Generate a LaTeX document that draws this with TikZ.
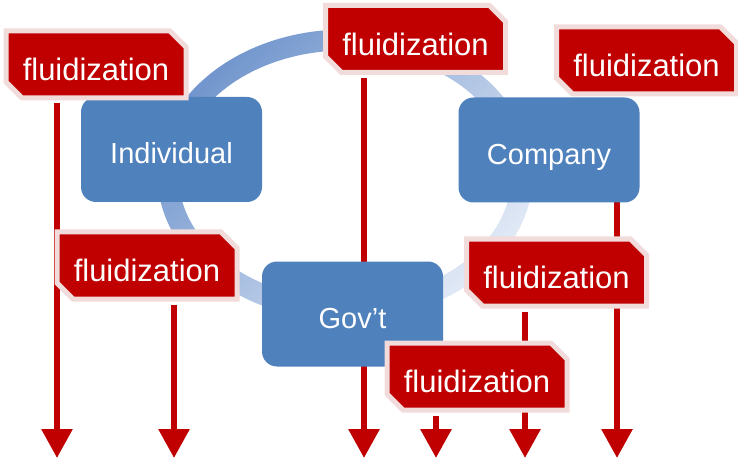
\documentclass[tikz,border=0pt]{standalone}
\usepackage{fontspec}
\setmainfont{Liberation Sans}
\usetikzlibrary{shapes.misc,arrows.meta}

\definecolor{boxblue}{HTML}{4F81BD}
\definecolor{flured}{HTML}{C00000}
\definecolor{flurim}{HTML}{F2DCDB}
\definecolor{ringdark}{HTML}{7296CD}
\definecolor{ringlight}{HTML}{E2EAF6}

\pgfdeclarelayer{ringlayer}
\pgfdeclarelayer{arrowlayer}
\pgfsetlayers{ringlayer,arrowlayer,main}

\begin{document}
\begin{tikzpicture}[x=1pt,y=-1pt,
  actor/.style={rectangle, rounded corners=15pt, fill=boxblue, text=white,
    minimum width=181pt, minimum height=105pt, inner sep=0pt,
    font=\fontsize{29}{34}\selectfont, text height=29pt, text depth=0pt},
  flu/.style={chamfered rectangle,
    chamfered rectangle corners={north east,south west},
    chamfered rectangle xsep=8pt, chamfered rectangle ysep=8pt,
    fill=flured, draw=flurim, line width=5pt, text=white,
    minimum width=180pt, minimum height=67pt, inner sep=0pt,
    font=\fontsize{31}{36}\selectfont, text height=32.6pt, text depth=0pt},
  flow/.style={draw=flured, line width=6pt,
    -{Triangle[width=30pt,length=29pt]}, shorten <=3pt}]

\useasboundingbox (0,0) rectangle (738,462);

% the three actors
\node[actor] (ind) at (171.5,149.5) {Individual};
\node[actor] (com) at (549,150) {Company};
\node[actor] (gov) at (352.5,314) {Gov’t};

% fluidization labels
\node[flu] (f1) at (96,64.5)    {fluidization};
\node[flu] (f2) at (415.5,39)   {fluidization};
\node[flu] (f3) at (147,265.5)  {fluidization};
\node[flu] (f4) at (477,376.5)  {fluidization};
\node[flu] (f5) at (646.5,60.5) {fluidization};
\node[flu] (f6) at (556.5,272.5){fluidization};

% arrow tips along the bottom edge
\coordinate (t1) at (57,458);
\coordinate (t2) at (174,458);
\coordinate (t3) at (364,458);
\coordinate (t4) at (436,458);
\coordinate (t5) at (525,458);
\coordinate (t6) at (617,458);

% cycle ring behind everything
\begin{pgfonlayer}{ringlayer}
  \coordinate (ringc) at (345,175);
  \shade[even odd rule, top color=ringdark, bottom color=ringlight,
         shading angle=45]
    (ringc) ellipse[x radius=187.5, y radius=145.5]
    (ringc) ellipse[x radius=166.5, y radius=124.5];
\end{pgfonlayer}

% downward flows, passing behind the boxes
\begin{pgfonlayer}{arrowlayer}
  \foreach \src/\tip in {f1/t1, f3/t2, f2/t3, f4/t4, f6/t5, f5/t6}
    \draw[flow] (\src.south -| \tip) -- (\tip);
\end{pgfonlayer}

\end{tikzpicture}
\end{document}
